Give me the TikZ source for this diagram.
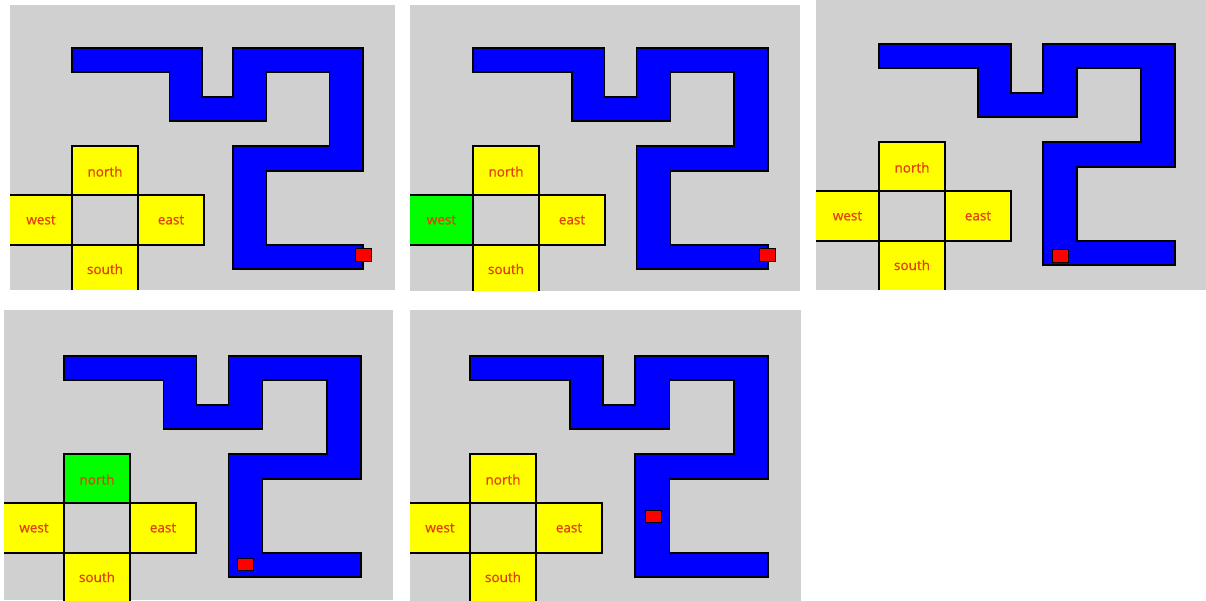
\documentclass[tikz,border=0pt]{standalone}
\usepackage{fontspec}
\setmainfont{Open Sans}
\newfontfamily\lblfont{Open Sans}[FakeBold=0.7]
\definecolor{panelgray}{RGB}{208,208,208}
\definecolor{mazeblue}{RGB}{0,0,255}
\definecolor{boxyellow}{RGB}{255,255,0}
\definecolor{boxgreen}{RGB}{0,255,0}
\definecolor{labelred}{RGB}{228,64,10}
\definecolor{markred}{RGB}{255,0,0}
\tikzset{
  outline/.style={draw=black, line width=1.6pt, line join=miter},
  maze/.style={outline, fill=mazeblue},
  dirbox/.style={outline},
  lbl/.style={text=labelred, inner sep=0pt, font=\lblfont\fontsize{13.5}{15}\selectfont},
  marker/.style={draw=black, line width=1pt, fill=markred},
}
% #1,#2 panel top-left; #3,#4 panel bottom-right; #5,#6 maze origin;
% #7,#8 marker position relative to maze origin; #9 panel id
% \mxs: horizontal scale of the maze
\newcommand\MazePanel[9]{%
\begin{scope}
  \clip (#1,#2) rectangle (#3,#4);
  \fill[panelgray] (#1,#2) rectangle (#3,#4);
  \begin{scope}[shift={(#5,#6)}]
    \begin{scope}[xscale=\mxs]
    \draw[maze] (0,0) -- (132,0) -- (132,49) -- (164,49) -- (164,0) -- (296,0)
      -- (296,123) -- (198,123) -- (198,197) -- (296,197) -- (296,221)
      -- (164,221) -- (164,98) -- (262,98) -- (262,24) -- (198,24)
      -- (198,73) -- (99,73) -- (99,24) -- (0,24) -- cycle;
    \end{scope}
    \draw[dirbox, fill=panelgray] (0,147) rectangle (66,197);
    \draw[dirbox, fill=\northcol] (0,98) rectangle (66,147);
    \draw[dirbox, fill=\westcol] (-90,147) rectangle (0,197);
    \draw[dirbox, fill=boxyellow] (66,147) rectangle (132,197);
    \draw[dirbox, fill=boxyellow] (0,197) rectangle (66,270);
    \node[lbl] (north#9) at (33,123.5) {north};
    \node[lbl] (west#9) at ({(#1-#5)/2},172) {west};
    \node[lbl] (east#9) at (99,172) {east};
    \node[lbl] (south#9) at (33,221) {south};
    \draw[marker] (#7,#8) rectangle ++(16,12.5);
  \end{scope}
\end{scope}}
\begin{document}
\begin{tikzpicture}[x=1pt,y=-1pt]
  \useasboundingbox[fill=white] (0,0) rectangle (1206,601);
  \def\northcol{boxyellow}\def\westcol{boxyellow}\def\mxs{0.983}
  \MazePanel{10}{5}{395}{290}{72}{48}{283}{201}{a}
  \def\northcol{boxyellow}\def\westcol{boxgreen}\def\mxs{0.997}
  \MazePanel{410}{5}{800}{291}{473}{48}{286}{201}{b}
  \def\northcol{boxyellow}\def\westcol{boxyellow}\def\mxs{1}
  \MazePanel{816}{0}{1206}{290}{879}{44}{173}{206}{c}
  \def\northcol{boxgreen}\def\westcol{boxyellow}\def\mxs{1.003}
  \MazePanel{4}{310}{393}{600}{64}{356}{173}{202}{d}
  \def\northcol{boxyellow}\def\westcol{boxyellow}\def\mxs{1.007}
  \MazePanel{410}{310}{801}{601}{470}{356}{175}{154}{e}
\end{tikzpicture}
\end{document}
